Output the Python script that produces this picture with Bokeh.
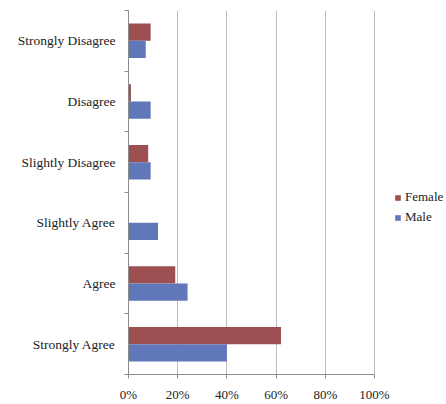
from bokeh.plotting import figure
from bokeh.models import FixedTicker, Legend, LegendItem, ColumnDataSource, NumeralTickFormatter
from bokeh.embed import file_html
from bokeh.resources import INLINE

# Survey responses, listed top to bottom
categories = ["Strongly Disagree", "Disagree", "Slightly Disagree",
              "Slightly Agree", "Agree", "Strongly Agree"]
female = [9, 1, 8, 0, 19, 62]
male = [7, 9, 9, 12, 24, 40]
x_ticks = [0, 20, 40, 60, 80, 100]

FONT = "Liberation Serif"
RED = "#9D4F51"
BLUE = "#6077B9"
AXIS = "#8C8C8C"
GRID = "#BEBEBE"

W, H = 446, 404
LEFT, TOP, BOTTOM = 128, 10, 24
AXIS_LEN = 246          # pixel length of the 0-100% span
PLOT_W = W - LEFT       # frame runs to the right edge to hold the legend

n = len(categories)
centers = [n - 1 - i + 0.5 for i in range(n)]
bar_h = 0.285

src = ColumnDataSource(dict(
    cat=categories,
    yf=[c + bar_h / 2 for c in centers],
    ym=[c - bar_h / 2 for c in centers],
    female=[v / 100 for v in female],
    male=[v / 100 for v in male],
))

p = figure(width=W, height=H, output_backend="svg", toolbar_location=None,
           x_range=(0, PLOT_W / AXIS_LEN), y_range=(0, n),
           min_border_left=LEFT, min_border_right=0,
           min_border_top=TOP, min_border_bottom=BOTTOM)
p.outline_line_color = None
p.background_fill_color = "white"

rf = p.hbar(y="yf", left=0, right="female", height=bar_h, source=src,
            fill_color=RED, line_color=None)
rm = p.hbar(y="ym", left=0, right="male", height=bar_h, source=src,
            fill_color=BLUE, line_color=None)

# x axis: percentage ticks, line limited to 0-100%
p.xaxis.ticker = FixedTicker(ticks=[t / 100 for t in x_ticks])
p.xaxis.bounds = (0, 1)
p.xaxis.formatter = NumeralTickFormatter(format="0%")
p.xaxis.axis_line_color = AXIS
p.xaxis.major_tick_line_color = AXIS
p.xaxis.major_tick_out = 4
p.xaxis.major_tick_in = 0
p.xaxis.minor_tick_line_color = None
p.xaxis.major_label_text_font = FONT
p.xaxis.major_label_text_font_size = "13px"
p.xaxis.major_label_text_color = "#222222"
p.xaxis.major_label_standoff = 8

# y axis: labels at category centers, ticks at boundaries
p.yaxis.ticker = FixedTicker(ticks=centers, minor_ticks=list(range(n + 1)))
p.yaxis.major_label_overrides = {c: categories[i] for i, c in enumerate(centers)}
p.yaxis.axis_line_color = AXIS
p.yaxis.major_tick_line_color = None
p.yaxis.minor_tick_line_color = AXIS
p.yaxis.minor_tick_out = 4
p.yaxis.minor_tick_in = 0
p.yaxis.major_label_text_font = FONT
p.yaxis.major_label_text_font_size = "13.5px"
p.yaxis.major_label_text_color = "#222222"
p.yaxis.major_label_standoff = 7

p.xgrid.grid_line_color = GRID
p.ygrid.grid_line_color = None

legend = Legend(items=[LegendItem(label="Female", renderers=[rf]),
                       LegendItem(label="Male", renderers=[rm])],
                location=(266, 149), orientation="vertical",
                background_fill_alpha=0, border_line_color=None,
                label_text_font=FONT, label_text_font_size="13px",
                label_text_color="#222222",
                glyph_width=7, glyph_height=7, label_standoff=4,
                spacing=4, padding=2, margin=0)
p.add_layout(legend)

open("out.html", "w").write(file_html(p, INLINE))
